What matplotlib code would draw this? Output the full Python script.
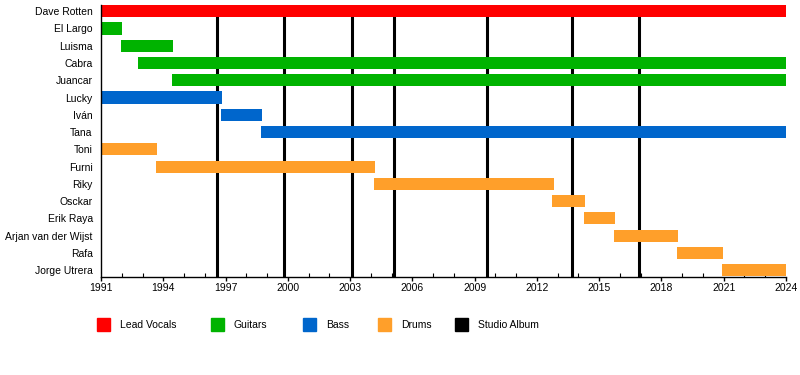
import matplotlib.pyplot as plt
from matplotlib.patches import Rectangle

plt.rcParams['font.family'] = ['Liberation Sans', 'DejaVu Sans']

# Membres (de haut en bas), début, fin, rôle
members = ['Dave Rotten', 'El Largo', 'Luisma', 'Cabra', 'Juancar', 'Lucky', 'Iván',
           'Tana', 'Toni', 'Furni', 'Riky', 'Osckar', 'Erik Raya',
           'Arjan van der Wijst', 'Rafa', 'Jorge Utrera']
starts = [1991.0, 1991.0, 1991.95, 1992.8, 1994.4, 1991.0, 1996.8,
          1998.7, 1991.0, 1993.65, 2004.15, 2012.75, 2014.25,
          2015.7, 2018.75, 2020.9]
ends = [2024.0, 1992.0, 1994.45, 2024.0, 2024.0, 1996.85, 1998.75,
        2024.0, 1993.7, 2004.2, 2012.8, 2014.3, 2015.75,
        2018.8, 2020.95, 2024.0]
roles = ['Lead Vocals', 'Guitars', 'Guitars', 'Guitars', 'Guitars', 'Bass', 'Bass',
         'Bass', 'Drums', 'Drums', 'Drums', 'Drums', 'Drums',
         'Drums', 'Drums', 'Drums']

# Albums studio
albums = [1996.6, 1999.8, 2003.1, 2005.1, 2009.6, 2013.7, 2016.9]

role_colors = {'Lead Vocals': '#FF0000', 'Guitars': '#00B300', 'Bass': '#0066CC',
               'Drums': '#FF9F2A', 'Studio Album': '#000000'}

fig = plt.figure(figsize=(8, 3.75), dpi=100)
ax = fig.add_axes([0.12625, 0.2613, 0.85625, 0.7254])

n = len(members)
ypos = list(range(n))

# Lignes des albums (derrière les barres)
for a in albums:
    ax.axvline(a, color='black', lw=2.2, zorder=1)

for y, s, e, r in zip(ypos, starts, ends, roles):
    ax.barh(y, e - s, left=s, height=0.7, color=role_colors[r], zorder=2)

ax.set_xlim(1991, 2024)
ax.set_ylim(n - 1 + 0.4, -0.36)
ax.set_yticks(ypos)
ax.set_yticklabels(members, fontsize=7.5)
ax.tick_params(axis='y', length=0, pad=6)

ax.set_xticks(range(1991, 2025, 3))
ax.set_xticks(range(1991, 2025), minor=True)
ax.tick_params(axis='x', which='major', direction='out', length=3, width=1, labelsize=7.5, pad=1)
ax.tick_params(axis='x', which='minor', direction='in', length=3, width=0.8)

for side in ['top', 'right']:
    ax.spines[side].set_visible(False)
ax.spines['left'].set_linewidth(1)
ax.spines['bottom'].set_linewidth(1)

# Légende
legend_items = ['Lead Vocals', 'Guitars', 'Bass', 'Drums', 'Studio Album']
legend_x = [97, 211, 303, 378, 455]
for label, x in zip(legend_items, legend_x):
    fig.add_artist(Rectangle((x / 800, 1 - 331 / 375), 13 / 800, 13 / 375,
                             transform=fig.transFigure, color=role_colors[label]))
    fig.text((x + 23) / 800, 1 - 325 / 375, label, fontsize=7.5, va='center', ha='left')

fig.savefig('out.png', dpi=100)
